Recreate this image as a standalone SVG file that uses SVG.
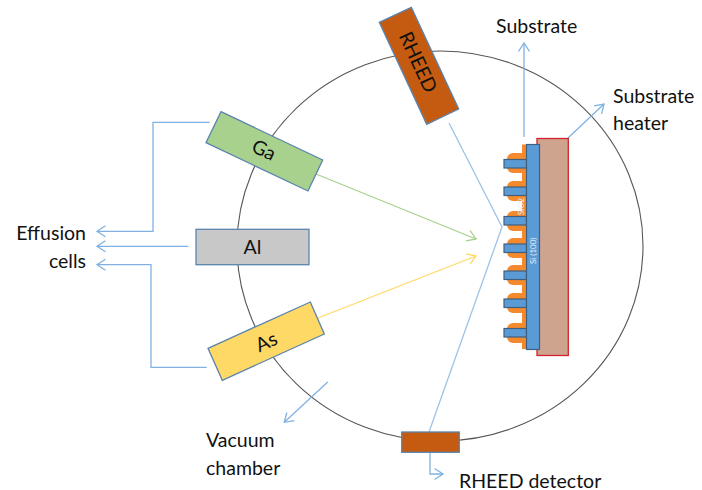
<svg xmlns="http://www.w3.org/2000/svg" width="702" height="490" viewBox="0 0 702 490">
<style>
.lead{fill:none;stroke:#7fb2e2;stroke-width:1.3}
.light{fill:none;stroke:#9dc3e6;stroke-width:1.3}
.t{font-family:Lato,"Liberation Sans",sans-serif;font-size:19.5px;fill:#111}
.box{stroke:#5b84ad;stroke-width:1.3}
.tooth{fill:#5b9bd5;stroke:#3f5f80;stroke-width:1.2}
.bump{fill:#f58a2c}
.tiny{font-family:Lato,"Liberation Sans",sans-serif;font-size:8px;fill:#e8eef6}
</style>
<defs>
<marker id="a" markerUnits="userSpaceOnUse" markerWidth="12" markerHeight="14" refX="10" refY="7" orient="auto"><path d="M1.5 1.5 10 7 1.5 12.5" fill="none" stroke="#7fb2e2" stroke-width="1.3"/></marker>
<marker id="g" markerUnits="userSpaceOnUse" markerWidth="12" markerHeight="14" refX="10" refY="7" orient="auto"><path d="M1.5 1.5 10 7 1.5 12.5" fill="none" stroke="#a9d18e" stroke-width="1.3"/></marker>
<marker id="y" markerUnits="userSpaceOnUse" markerWidth="12" markerHeight="14" refX="10" refY="7" orient="auto"><path d="M1.5 1.5 10 7 1.5 12.5" fill="none" stroke="#ffd966" stroke-width="1.3"/></marker>
</defs>
<ellipse id="chamber" cx="440" cy="246" rx="203" ry="195" fill="none" stroke="#555" stroke-width="1.1"/>
<g id="connectors">
<path class="lead" d="M209.700 122.300H153V231.300H97" marker-end="url(#a)"/>
<path class="lead" d="M188.300 246.300H97" marker-end="url(#a)"/>
<path class="lead" d="M206.700 367.300H151V264.700H97" marker-end="url(#a)"/>
<path d="M316 174 476 239" fill="none" stroke="#a9d18e" stroke-width="1.2" marker-end="url(#g)"/>
<path d="M318 318 476 256" fill="none" stroke="#ffd966" stroke-width="1.2" marker-end="url(#y)"/>
<path class="light" d="M449 123 502 227 429 432"/>
<path class="lead" d="M430 452V474H443" marker-end="url(#a)"/>
<path class="lead" d="M327.700 382 284.300 422.300" marker-end="url(#a)"/>
<path class="lead" d="M524 137V43" marker-end="url(#a)"/>
<path class="lead" d="M568 138 604 104" marker-end="url(#a)"/>
</g>
<g id="heater"><rect x="537" y="138.500" width="31.300" height="217" fill="#cfa48f" stroke="#d0222c" stroke-width="1.3"/></g>
<g id="substrate">
<rect class="bump" x="522" y="144.500" width="6" height="204.500"/>
<rect class="bump" x="507" y="153" width="20" height="20" rx="6"/>
<rect class="bump" x="507" y="181" width="20" height="20" rx="6"/>
<rect class="bump" x="507" y="211" width="20" height="20" rx="6"/>
<rect class="bump" x="507" y="238" width="20" height="20" rx="6"/>
<rect class="bump" x="507" y="265" width="20" height="20" rx="6"/>
<rect class="bump" x="507" y="293" width="20" height="20" rx="6"/>
<rect class="bump" x="507" y="323" width="20" height="20" rx="6"/>
<rect class="tooth" x="504" y="159.500" width="22.500" height="8.500"/>
<rect class="tooth" x="504" y="187" width="22.500" height="8.500"/>
<rect class="tooth" x="504" y="216.500" width="22.500" height="8.500"/>
<rect class="tooth" x="504" y="244" width="22.500" height="8.500"/>
<rect class="tooth" x="504" y="271" width="22.500" height="8.500"/>
<rect class="tooth" x="504" y="299" width="22.500" height="8.500"/>
<rect class="tooth" x="504" y="328.500" width="22.500" height="8.500"/>
<rect x="526.500" y="144.500" width="13" height="205" fill="#5b9bd5" stroke="#3f5f80" stroke-width="1.2"/>
<text class="tiny" transform="translate(524 215) rotate(-90)">SiO2</text>
<text class="tiny" transform="translate(536 264) rotate(-90)">Si (100)</text>
</g>
<g id="ga"><path class="box" d="M221 111.700 322.700 160 308 191 206 142.700Z" fill="#a9d18e"/><text class="t" text-anchor="middle" transform="translate(261 156) rotate(25.400)">Ga</text></g>
<g id="al"><rect class="box" x="196" y="229.300" width="113" height="35.400" fill="#c8c8c8"/><text class="t" text-anchor="middle" x="252.500" y="254">Al</text></g>
<g id="as"><path class="box" d="M310.300 302 324.300 334 222.300 380.300 208 348.300Z" fill="#ffd966"/><text class="t" text-anchor="middle" transform="translate(269 348) rotate(-24.500)">As</text></g>
<g id="rheed"><path class="box" d="M411.300 7.300 458.700 109 426.700 124.300 379.300 22.300Z" fill="#c55a11"/><text class="t" text-anchor="middle" transform="translate(412 65) rotate(65)">RHEED</text></g>
<g id="detector"><rect class="box" x="401.700" y="432" width="57.600" height="20.300" fill="#c55a11"/></g>
<text class="t" text-anchor="end" x="86" y="240">Effusion</text>
<text class="t" text-anchor="end" x="86" y="268">cells</text>
<text class="t" x="496" y="33">Substrate</text>
<text class="t" x="613" y="103">Substrate</text>
<text class="t" x="613" y="130">heater</text>
<text class="t" x="206" y="447">Vacuum</text>
<text class="t" x="206" y="475">chamber</text>
<text class="t" x="459" y="488">RHEED detector</text>
</svg>
